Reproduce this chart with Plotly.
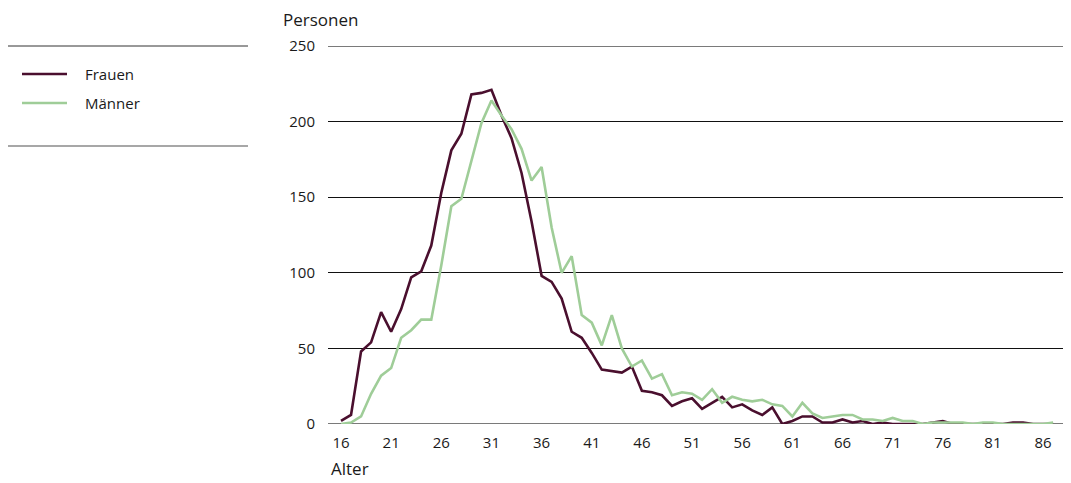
import plotly.graph_objects as go

ages = list(range(16, 88))
frauen = [2, 6, 48, 54, 74, 61, 76, 97, 101, 118,
          153, 181, 192, 218, 219, 221, 204, 189, 166, 134,
          98, 94, 83, 61, 57, 47, 36, 35, 34, 38,
          22, 21, 19, 12, 15, 17, 10, 14, 18, 11,
          13, 9, 6, 11, 0, 2, 5, 5, 1, 1,
          3, 1, 2, 0, 1, 0, 0, 0, 0, 1,
          2, 0, 0, 0, 0, 0, 0, 1, 1, 0,
          0, 0]
maenner = [0, 1, 5, 20, 32, 37, 57, 62, 69, 69,
           105, 144, 149, 174, 199, 214, 204, 195, 182, 161,
           170, 130, 100, 111, 72, 67, 52, 72, 50, 38,
           42, 30, 33, 19, 21, 20, 16, 23, 14, 18,
           16, 15, 16, 13, 12, 5, 14, 7, 4, 5,
           6, 6, 3, 3, 2, 4, 2, 2, 0, 1,
           1, 1, 1, 0, 1, 1, 0, 0, 0, 0,
           0, 1]
xticks = list(range(16, 87, 5))
yticks = [0, 50, 100, 150, 200, 250]

C_F = "#4a0f2e"
C_M = "#9fcd98"
FONT = "Open Sans"
TXT = "#1a1a1a"

fig = go.Figure()
fig.add_trace(go.Scatter(x=ages, y=frauen, mode="lines", name="Frauen",
                         line=dict(color=C_F, width=2.6), showlegend=False))
fig.add_trace(go.Scatter(x=ages, y=maenner, mode="lines", name="Männer",
                         line=dict(color=C_M, width=2.6), showlegend=False))

OFF = 8  # page body margin
W, H = 1071 - OFF, 483 - OFF
L, T = 328 - OFF, 46 - OFF
R = W - (1067 - OFF)
B = H - (424 - OFF)
pw = W - L - R
ph = H - T - B

def px(xp):
    return (xp - OFF - L) / pw

def py(yp):
    return 1 - (yp - OFF - T) / ph

# frame lines at 0 and 250
for yv in (0, 250):
    fig.add_shape(type="line", xref="paper", yref="y", x0=0, x1=1, y0=yv, y1=yv,
                  line=dict(color="#7a7a7a", width=2), layer="below")

# legend panel
fig.add_shape(type="line", xref="paper", yref="paper", x0=px(8), x1=px(248),
              y0=py(46), y1=py(46), line=dict(color="#333333", width=1))
fig.add_shape(type="line", xref="paper", yref="paper", x0=px(8), x1=px(248),
              y0=py(146), y1=py(146), line=dict(color="#8a8a8a", width=1.5))
for yl, col, name in ((74, C_F, "Frauen"), (103, C_M, "Männer")):
    fig.add_shape(type="line", xref="paper", yref="paper", x0=px(22), x1=px(67),
                  y0=py(yl), y1=py(yl), line=dict(color=col, width=2.6))
    fig.add_annotation(xref="paper", yref="paper", x=px(83), y=py(yl), text=name,
                       showarrow=False, xanchor="left", yanchor="middle",
                       font=dict(family=FONT, size=15, color=TXT))

fig.add_annotation(xref="paper", yref="paper", x=px(281), y=py(19), text="Personen",
                   showarrow=False, xanchor="left", yanchor="middle",
                   font=dict(family=FONT, size=17, color=TXT))
fig.add_annotation(xref="paper", yref="paper", x=px(329), y=py(468), text="Alter",
                   showarrow=False, xanchor="left", yanchor="middle",
                   font=dict(family=FONT, size=17, color=TXT))

sp = 10.03
fig.update_layout(
    width=W, height=H,
    margin=dict(l=L, r=R, t=T, b=B, pad=0),
    paper_bgcolor="white", plot_bgcolor="white",
    font=dict(family=FONT, size=15, color=TXT),
    xaxis=dict(range=[16 - 13 / sp, 16 + (1067 - 341) / sp], tickvals=xticks,
               showgrid=False, zeroline=False, showline=False,
               ticks="outside", ticklen=5, tickcolor="rgba(0,0,0,0)"),
    yaxis=dict(range=[0, 250], tickvals=yticks, showgrid=True,
               gridcolor="#111111", gridwidth=1, zeroline=False, showline=False,
               ticks="outside", ticklen=9, tickcolor="rgba(0,0,0,0)"),
)

fig.write_html("out.html")
